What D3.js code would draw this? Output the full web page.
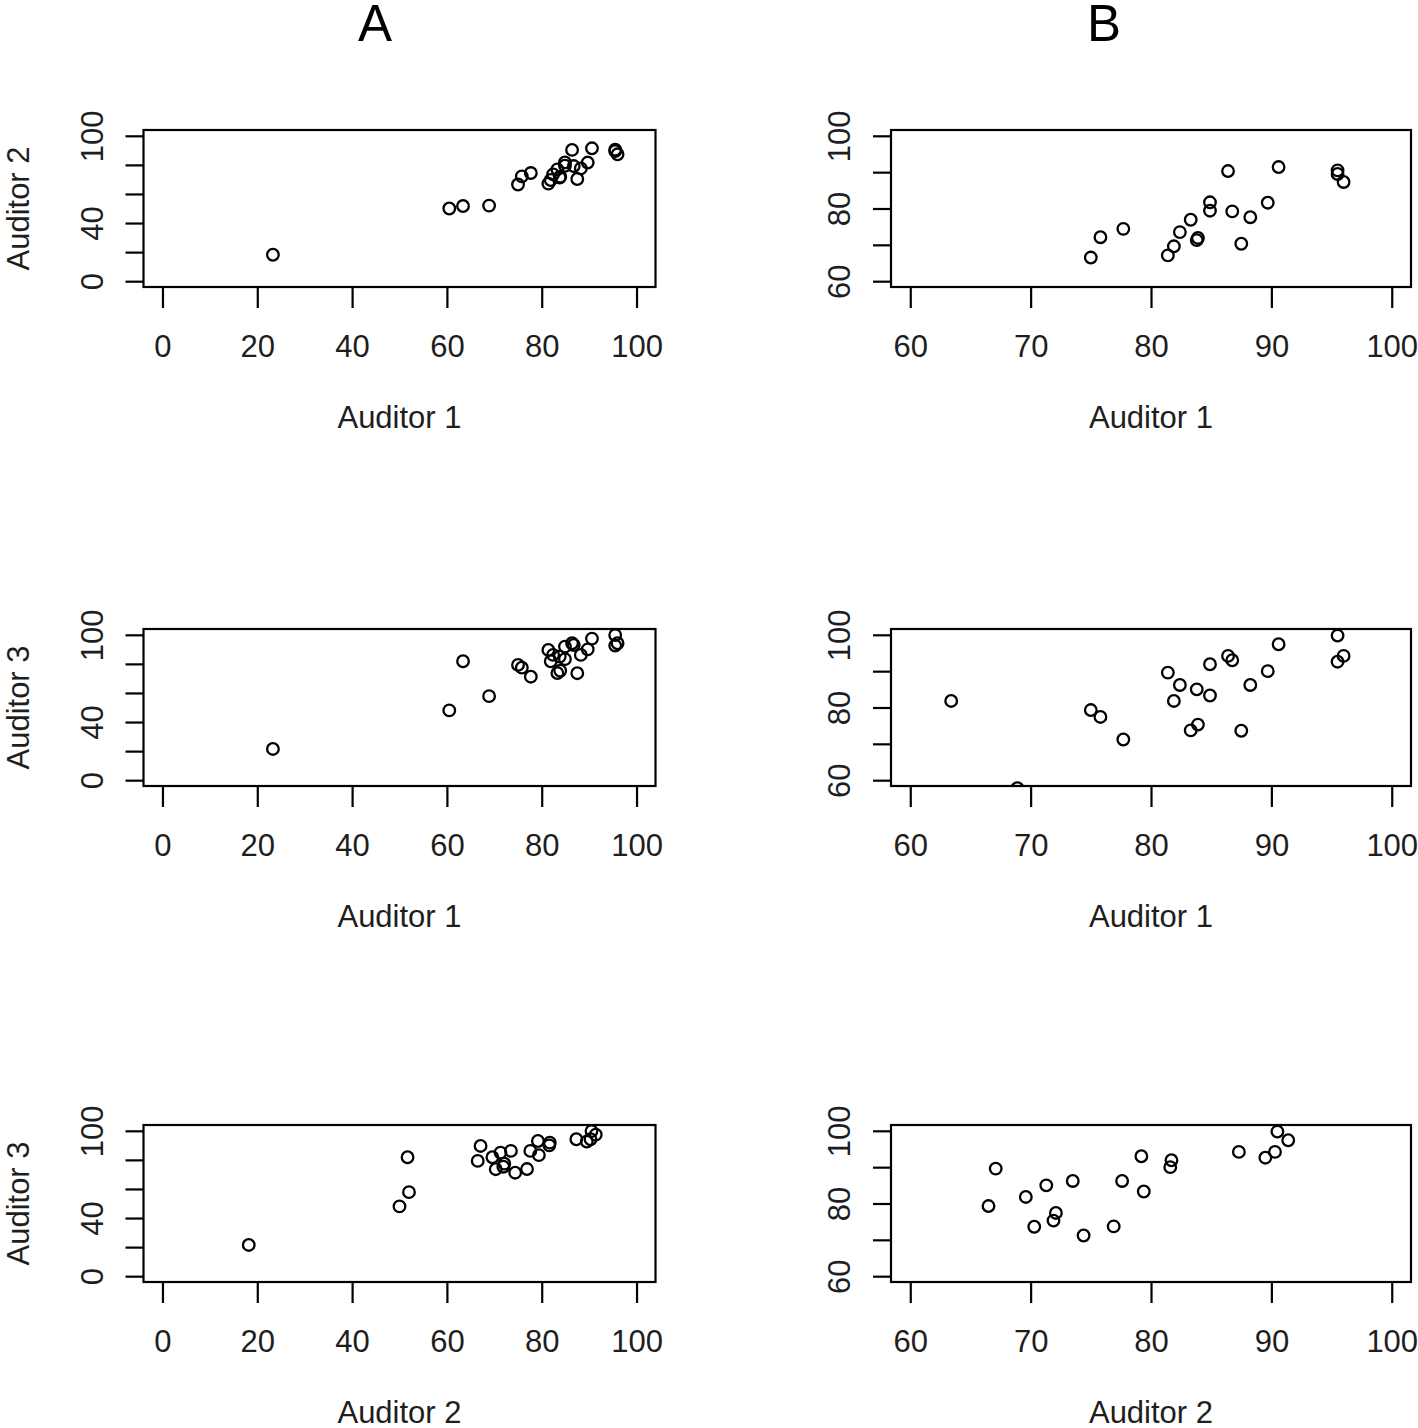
<!DOCTYPE html>
<html>
<head>
<meta charset="utf-8">
<script src="https://cdn.jsdelivr.net/npm/d3@7"></script>
<style>
  html, body { margin: 0; padding: 0; background: #fff; }
  svg { display: block; }
  text { font-family: "Liberation Sans", Arial, sans-serif; fill: #1e1e1e; }
</style>
</head>
<body>
<svg id="chart" width="1418" height="1428"></svg>
<script>
// ---- data (scores per subject) ----
const auditor1 = [75.0, 75.8, 77.7, 81.4, 81.9, 82.4, 83.3, 83.8, 83.9, 84.9, 84.9, 86.4, 86.75, 87.5, 88.25, 89.7, 90.6, 95.5, 95.5, 96.0, 63.4, 68.9, 60.5, 23.3];
const auditor2 = [66.5, 72.1, 74.4, 67.1, 69.6, 73.5, 76.9, 71.3, 71.9, 79.4, 81.7, 90.3, 79.2, 70.3, 77.6, 81.6, 91.4, 90.5, 89.5, 87.3, 51.7, 52.0, 50.0, 18.2];
const auditor3 = [79.3, 77.4, 71.2, 89.6, 81.8, 86.2, 73.7, 85.0, 75.3, 83.3, 91.9, 94.2, 93.0, 73.6, 86.2, 90.0, 97.4, 99.8, 92.6, 94.2, 81.8, 57.8, 48.0, 21.5];

const columnTitles = ["A", "B"];
const panelXLabels = ["Auditor 1", "Auditor 1", "Auditor 2"];
const panelYLabels = ["Auditor 2", "Auditor 3", "Auditor 3"];

const ticksA = [0, 20, 40, 60, 80, 100];
const yLabelsA = [0, 40, 100];
const ticksB = [60, 70, 80, 90, 100];
const yLabelsB = [60, 80, 100];

// ---- layout ----
const svg = d3.select("#chart");
const rowTops = [130, 629, 1125];
const plotH = 157;
const cols = [
  { left: 143.5, width: 512, domain: [-4, 104], ticks: ticksA, yLabels: yLabelsA, showYTitle: true },
  { left: 891, width: 520, domain: [58.4, 101.6], ticks: ticksB, yLabels: yLabelsB, showYTitle: false }
];
const pairs = [
  [auditor1, auditor2],
  [auditor1, auditor3],
  [auditor2, auditor3]
];

const lw = 2.2;
const tickFont = 31;

// column titles
svg.append("text").attr("x", 375).attr("y", 41).attr("text-anchor", "middle")
  .style("font-size", "51px").style("fill", "#000").text(columnTitles[0]);
svg.append("text").attr("x", 1104).attr("y", 41).attr("text-anchor", "middle")
  .style("font-size", "51px").style("fill", "#000").text(columnTitles[1]);

pairs.forEach((pair, r) => {
  cols.forEach((c, ci) => {
    const top = rowTops[r];
    const x = d3.scaleLinear().domain(c.domain).range([0, c.width]);
    const y = d3.scaleLinear().domain(c.domain).range([plotH, 0]);
    const g = svg.append("g").attr("transform", `translate(${c.left},${top})`);

    const clipId = `clip-${r}-${ci}`;
    g.append("clipPath").attr("id", clipId)
      .append("rect").attr("x", 0).attr("y", 0).attr("width", c.width).attr("height", plotH);

    // points
    const pts = pair[0].map((v, i) => [v, pair[1][i]]);
    g.append("g").attr("clip-path", `url(#${clipId})`)
      .selectAll("circle").data(pts).join("circle")
      .attr("cx", d => x(d[0])).attr("cy", d => y(d[1]))
      .attr("r", 5.8)
      .attr("fill", "none").attr("stroke", "#000").attr("stroke-width", 2.3);

    // x axis
    const xa = g.append("g").attr("transform", `translate(0,${plotH})`)
      .call(d3.axisBottom(x).tickValues(c.ticks).tickSize(21).tickSizeOuter(0).tickFormat(d3.format("d")));
    xa.select(".domain").remove();
    xa.selectAll("line").attr("stroke", "#000").attr("stroke-width", lw);
    xa.selectAll("text").attr("y", 70).attr("dy", 0)
      .style("font-size", tickFont + "px");

    // y axis
    const ya = g.append("g")
      .call(d3.axisLeft(y).tickValues(c.ticks).tickSize(18).tickSizeOuter(0)
        .tickFormat(d => c.yLabels.includes(d) ? d3.format("d")(d) : ""));
    ya.select(".domain").remove();
    ya.selectAll("line").attr("stroke", "#000").attr("stroke-width", lw);
    ya.selectAll("text")
      .attr("transform", "rotate(-90)")
      .attr("x", 0).attr("y", -41).attr("dy", 0)
      .attr("text-anchor", "middle")
      .style("font-size", tickFont + "px");

    // box
    g.append("rect").attr("x", 0).attr("y", 0).attr("width", c.width).attr("height", plotH)
      .attr("fill", "none").attr("stroke", "#000").attr("stroke-width", lw);

    // axis titles
    g.append("text").attr("x", c.width / 2).attr("y", plotH + 141)
      .attr("text-anchor", "middle").style("font-size", "31px").text(panelXLabels[r]);
    if (c.showYTitle) {
      g.append("text")
        .attr("transform", `translate(${-115},${plotH / 2}) rotate(-90)`)
        .attr("text-anchor", "middle").style("font-size", "31px").text(panelYLabels[r]);
    }
  });
});
</script>
</body>
</html>
